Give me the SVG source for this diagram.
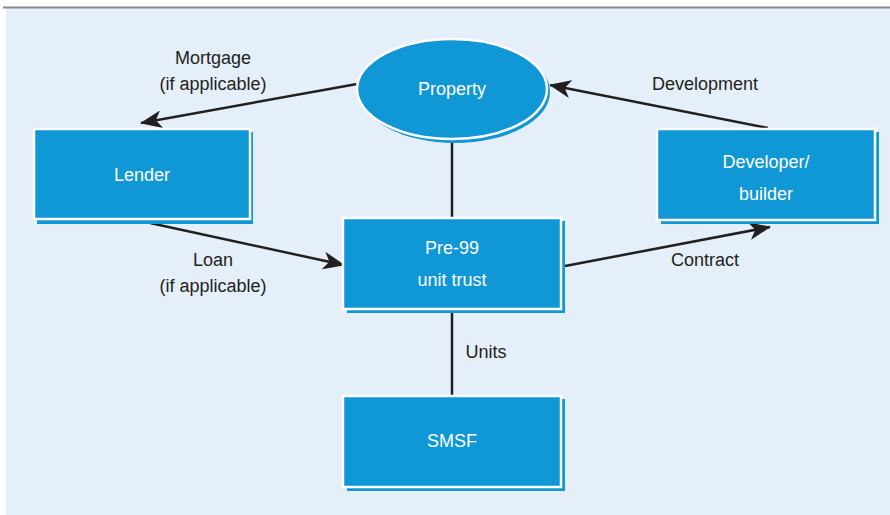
<svg xmlns="http://www.w3.org/2000/svg" width="890" height="515" viewBox="0 0 890 515">
  <style>
    .shadow { fill: #1097d5; }
    .box { fill: #1097d5; stroke: #ffffff; stroke-width: 2.5; }
    .node-text { font-family: "Liberation Sans", Arial, sans-serif; font-size: 18px; fill: #ffffff; text-anchor: middle; }
    .label { font-family: "Liberation Sans", Arial, sans-serif; font-size: 18px; fill: #231f20; text-anchor: middle; }
    .edge { stroke: #231f20; stroke-width: 2.5; fill: none; }
  </style>
  <defs>
    <!-- barbed arrowhead, tip at the path end -->
    <marker id="arrow" viewBox="0 0 22 18" refX="21" refY="9" markerWidth="22" markerHeight="18" markerUnits="userSpaceOnUse" orient="auto">
      <path d="M0,0 L22,9 L0,18 L6,9 Z" fill="#231f20"/>
    </marker>
  </defs>

  <!-- panel -->
  <rect x="0" y="0" width="890" height="515" fill="#ffffff"/>
  <rect x="6" y="8" width="884" height="507" fill="#e4eff9"/>
  <line x1="3" y1="7.5" x2="890" y2="7.5" stroke="#8a8a8a" stroke-width="2"/>

  <!-- connectors -->
  <g id="connectors">
    <line class="edge" x1="452" y1="141" x2="452" y2="217"/>
    <line class="edge" x1="452" y1="310" x2="452" y2="395"/>
    <path class="edge" d="M357,84 L141,123" marker-end="url(#arrow)"/>
    <path class="edge" d="M768,128 L550,85" marker-end="url(#arrow)"/>
    <path class="edge" d="M150,223 L344,265" marker-end="url(#arrow)"/>
    <path class="edge" d="M565,266 L770,227" marker-end="url(#arrow)"/>
  </g>

  <!-- connector labels -->
  <g id="labels">
    <text class="label" x="213" y="64">Mortgage</text>
    <text class="label" x="213" y="90">(if applicable)</text>
    <text class="label" x="705" y="90">Development</text>
    <text class="label" x="213" y="266">Loan</text>
    <text class="label" x="213" y="292">(if applicable)</text>
    <text class="label" x="705" y="266">Contract</text>
    <text class="label" x="486" y="358">Units</text>
  </g>

  <!-- nodes -->
  <g id="property">
    <ellipse class="shadow" cx="455" cy="92" rx="95" ry="51"/>
    <ellipse class="box" cx="452" cy="89" rx="95" ry="50"/>
    <text class="node-text" x="452" y="95">Property</text>
  </g>

  <g id="lender">
    <rect class="shadow" x="37" y="132" width="216" height="92"/>
    <rect class="box" x="34" y="129" width="216" height="90"/>
    <text class="node-text" x="142" y="181">Lender</text>
  </g>

  <g id="unit-trust">
    <rect class="shadow" x="347" y="221" width="218" height="92"/>
    <rect class="box" x="343" y="218" width="218" height="91"/>
    <text class="node-text" x="452" y="254">Pre-99</text>
    <text class="node-text" x="452" y="286">unit trust</text>
  </g>

  <g id="developer">
    <rect class="shadow" x="661" y="132" width="218" height="92"/>
    <rect class="box" x="657" y="129" width="218" height="91"/>
    <text class="node-text" x="766" y="168">Developer/</text>
    <text class="node-text" x="766" y="200">builder</text>
  </g>

  <g id="smsf">
    <rect class="shadow" x="347" y="399" width="218" height="92"/>
    <rect class="box" x="343" y="396" width="218" height="91"/>
    <text class="node-text" x="452" y="447">SMSF</text>
  </g>
</svg>
